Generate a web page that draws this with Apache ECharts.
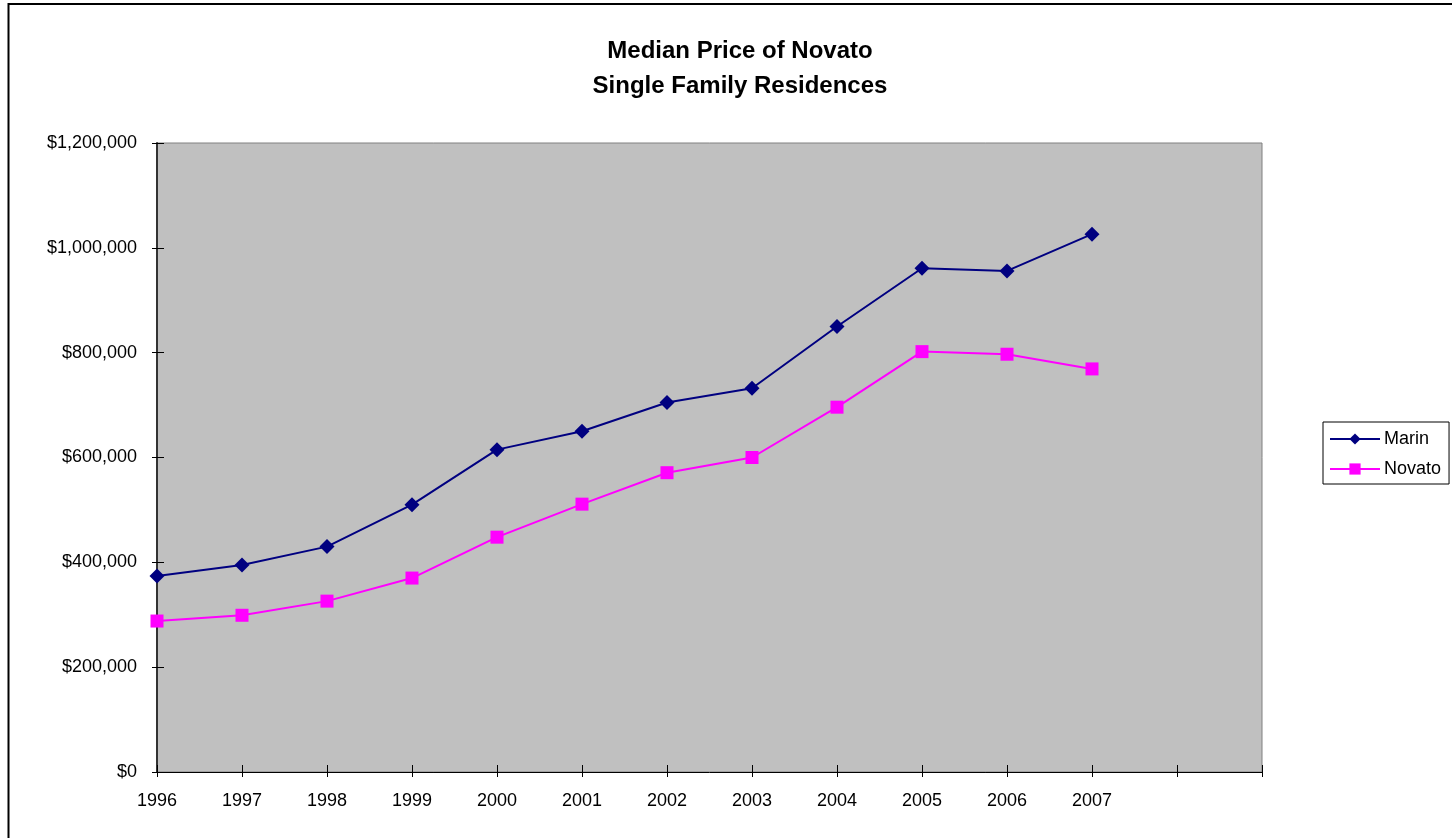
<!DOCTYPE html>
<html>
<head>
<meta charset="utf-8">
<script src="https://cdn.jsdelivr.net/npm/echarts@6/dist/echarts.min.js"></script>
<style>html,body{margin:0;padding:0;background:#fff}#c{width:1452px;height:838px}</style>
</head>
<body>
<div id="c"></div>
<script>
const years = ['1996','1997','1998','1999','2000','2001','2002','2003','2004','2005','2006','2007','',''];
const marin = [374000, 395000, 430000, 510000, 615000, 650000, 705000, 732000, 850000, 961000, 956000, 1026000];
const novato = [288000, 299000, 326000, 370000, 448000, 511000, 571000, 600000, 696000, 802000, 797000, 769000];
const yTicks = { min: 0, max: 1200000, interval: 200000 };

const chart = echarts.init(document.getElementById('c'));
const font = '"Liberation Sans", Arial, sans-serif';
const fmt = v => '$' + v.toLocaleString('en-US');
chart.setOption({
  animation: false,
  backgroundColor: '#fff',
  textStyle: { fontFamily: font },
  graphic: [{
    type: 'rect', shape: { x: 8.5, y: 4, width: 1460, height: 850 },
    style: { fill: 'none', stroke: '#000', lineWidth: 2 }, z: -10
  }],
  title: {
    text: 'Median Price of Novato\nSingle Family Residences',
    left: 740, top: 34, textAlign: 'center', padding: 0,
    textStyle: { fontFamily: font, fontSize: 24, fontWeight: 'bold', color: '#000', lineHeight: 35 }
  },
  legend: {
    orient: 'vertical', left: 1323, top: 422, width: 127,
    padding: [8, 8, 6, 6], itemGap: 12, itemWidth: 50, itemHeight: 14,
    borderColor: '#000', borderWidth: 1, backgroundColor: '#fff',
    textStyle: { fontFamily: font, fontSize: 18, color: '#000', padding: [0, 0, 0, -1] },
    data: ['Marin', 'Novato']
  },
  grid: {
    left: 157, right: 190, top: 143, bottom: 66,
    show: true, backgroundColor: '#C0C0C0', borderColor: '#808080', borderWidth: 1
  },
  xAxis: [{
    type: 'category', data: years, boundaryGap: false,
    axisLine: { lineStyle: { color: '#000', width: 1 } },
    axisTick: { show: true, inside: false, length: 5, interval: 0, lineStyle: { color: '#000' } },
    axisLabel: { color: '#000', fontSize: 18, fontFamily: font, margin: 20, interval: 0 },
    splitLine: { show: false }
  }, {
    type: 'category', data: years, boundaryGap: false, position: 'bottom',
    axisLine: { show: false },
    axisTick: { show: true, inside: true, length: 7, interval: 0, lineStyle: { color: '#000' } },
    axisLabel: { show: false }, splitLine: { show: false }
  }],
  yAxis: [{
    type: 'value', min: yTicks.min, max: yTicks.max, interval: yTicks.interval,
    axisLine: { show: true, lineStyle: { color: '#333', width: 2 } },
    axisTick: { show: true, inside: false, length: 5, lineStyle: { color: '#000' } },
    axisLabel: { color: '#000', fontSize: 18, fontFamily: font, margin: 20, formatter: fmt },
    splitLine: { show: false }
  }, {
    type: 'value', min: yTicks.min, max: yTicks.max, interval: yTicks.interval, position: 'left',
    axisLine: { show: false },
    axisTick: { show: true, inside: true, length: 7, lineStyle: { color: '#000' } },
    axisLabel: { show: false }, splitLine: { show: false }
  }],
  series: [{
    name: 'Marin', type: 'line', data: marin,
    symbol: 'diamond', symbolSize: 15,
    itemStyle: { color: '#000080' },
    lineStyle: { color: '#000080', width: 2 }
  }, {
    name: 'Novato', type: 'line', data: novato,
    symbol: 'rect', symbolSize: 13,
    itemStyle: { color: '#FF00FF' },
    lineStyle: { color: '#FF00FF', width: 2 }
  }]
});
</script>
</body>
</html>
